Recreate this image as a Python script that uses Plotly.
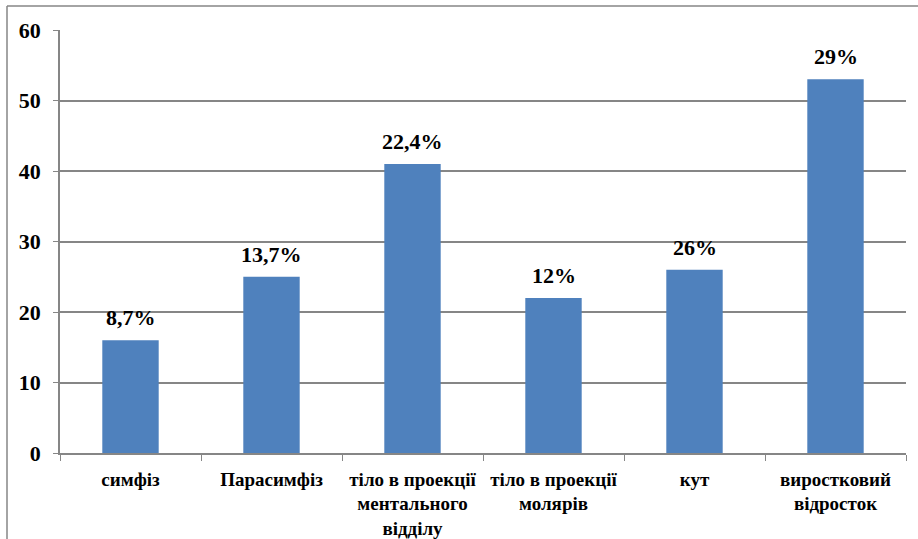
import plotly.graph_objects as go

categories = ["симфіз", "Парасимфіз", "тіло в проекції<br>ментального<br>відділу",
              "тіло в проекції<br>молярів", "кут", "виростковий<br>відросток"]
values = [16, 25, 41, 22, 26, 53]
labels = ["8,7%", "13,7%", "22,4%", "12%", "26%", "29%"]
y_ticks = [0, 10, 20, 30, 40, 50, 60]

FONT = "Liberation Serif"

fig = go.Figure(go.Bar(
    x=categories, y=values,
    marker=dict(color="#4F81BD", line=dict(width=0)),
    width=0.4,
))

for c, v, t in zip(categories, values, labels):
    fig.add_annotation(x=c, y=v, text=t, showarrow=False, yanchor="bottom",
                       yshift=8,
                       font=dict(family=FONT, size=22, color="black", weight="bold"))

L, R, T, B = 60, 12, 30, 86
pw = 918 - L - R
ph = 539 - T - B

fig.update_layout(
    width=918, height=539,
    margin=dict(l=L, r=R, t=T, b=B),
    paper_bgcolor="white", plot_bgcolor="white",
    showlegend=False,
    xaxis=dict(
        showline=True, linecolor="#868686", linewidth=1.5,
        ticks="outside", tickson="boundaries", ticklen=6, tickcolor="#868686",
        tickfont=dict(family=FONT, size=19, color="black", weight="bold"),
        showgrid=False, ticklabelstandoff=8, automargin=False,
    ),
    yaxis=dict(
        range=[0, 60], tickvals=y_ticks,
        showline=True, linecolor="#868686", linewidth=1.5,
        ticks="outside", ticklen=5, tickcolor="#868686",
        showgrid=True, gridcolor="#868686", gridwidth=1.5,
        zeroline=False, automargin=False,
        tickfont=dict(family=FONT, size=22, color="black", weight="bold"),
        ticklabelstandoff=8,
    ),
    shapes=[
        dict(type="line", xref="paper", yref="paper",
             x0=(7 - L) / pw, x1=(7 - L) / pw, y0=(453 - 6) / ph, y1=-0.5,
             line=dict(color="#868686", width=1.5)),
        dict(type="line", xref="paper", yref="paper",
             x0=(7 - L) / pw, x1=1.2, y0=(453 - 6) / ph, y1=(453 - 6) / ph,
             line=dict(color="#868686", width=1.5)),
    ],
)

fig.write_html("out.html")
